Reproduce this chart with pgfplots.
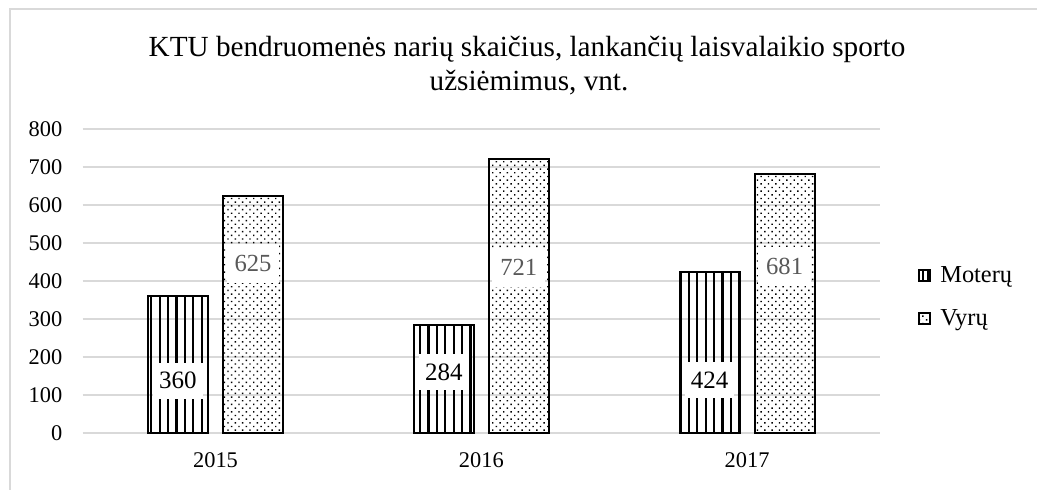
\documentclass[border=0pt]{standalone}
\usepackage{fontspec}
\setmainfont{Liberation Serif}
\usepackage{pgfplots}
\pgfplotsset{compat=1.18}
\usetikzlibrary{patterns.meta}
\definecolor{gridgray}{HTML}{D9D9D9}
\definecolor{lblgray}{HTML}{595959}
\begin{document}
\begin{tikzpicture}
\useasboundingbox (0pt,0pt) rectangle (518.5pt,-244.5pt);
\draw[gridgray, line width=1pt] (4.75pt,-250pt) -- (4.75pt,-4.5pt) -- (525pt,-4.5pt);
\node[anchor=base, font=\fontsize{14.6}{17}\selectfont] at (263.5pt,-28pt) {KTU bendruomenės narių skaičius, lankančių laisvalaikio sporto};
\node[anchor=base, font=\fontsize{14.6}{17}\selectfont] at (264.5pt,-45pt) {užsiėmimus, vnt.};
\begin{axis}[
  at={(41.3pt,-216.5pt)}, anchor=south west,
  scale only axis, width=398.7pt, height=152pt,
  xmin=-0.5, xmax=2.5, ymin=0, ymax=800,
  ytick={0,100,...,800},
  xtick={0,1,2}, xticklabels={2015,2016,2017},
  axis line style={draw=none},
  major tick length=0pt,
  ymajorgrids, grid style={gridgray, line width=1pt},
  /pgf/number format/assume math mode=true,
  tick label style={font=\fontsize{11.2}{13}\selectfont},
  yticklabel style={xshift=-6.6pt},
  xticklabel style={yshift=-6.3pt},
  legend style={at={(1,0.5)}, anchor=west, xshift=17pt, yshift=-8pt, draw=none, fill=none,
    font=\fontsize{12.2}{14}\selectfont, row sep=8pt, inner sep=2pt},
  legend cell align=left,
]
\addplot[ybar, bar width=30pt, bar shift=-18.75pt, draw=black, line width=1pt,
  pattern={Lines[angle=90,distance=4.2pt,line width=1.1pt]},
  legend image code/.code={\path[draw=none,fill=none] (0pt,0pt) -- (8.5pt,0pt);\draw[black, line width=0.9pt, pattern={Lines[angle=90,distance=2.6pt,line width=0.9pt,xshift=1.3pt]}] (0pt,-2.6pt) rectangle (5.2pt,2.6pt);}]
  coordinates {(0,360) (1,284) (2,424)};
\addlegendentry{Moterų}
\addplot[ybar, bar width=30pt, bar shift=18.75pt, draw=black, line width=1pt,
  pattern={Dots[distance=2.6pt,angle=45,radius=0.5pt]},
  legend image code/.code={\path[draw=none,fill=none] (0pt,0pt) -- (8.5pt,0pt);\draw[black, line width=0.9pt, pattern={Dots[distance=2.6pt,angle=45,radius=0.55pt]}] (0pt,-2.6pt) rectangle (5.2pt,2.6pt);}]
  coordinates {(0,625) (1,721) (2,681)};
\addlegendentry{Vyrų}
\addplot[draw=none, mark=none, forget plot, nodes near coords, point meta=explicit symbolic,
  nodes near coords align={anchor=center},
  every node near coord/.append style={fill=white, text=black, anchor=center, inner xsep=3pt, inner ysep=0pt, minimum height=18pt, font=\fontsize{12.5}{14}\selectfont}]
  coordinates {(-0.1411,138)[360] (0.8589,160)[284] (1.8589,139)[424]};
\addplot[draw=none, mark=none, forget plot, nodes near coords, point meta=explicit symbolic,
  nodes near coords align={anchor=center},
  every node near coord/.append style={fill=white, text=lblgray, anchor=center, inner xsep=4pt, inner ysep=0pt, minimum height=19.5pt, font=\fontsize{12.3}{14}\selectfont}]
  coordinates {(0.1411,445)[625] (1.1411,435)[721] (2.1411,438)[681]};
\end{axis}
\end{tikzpicture}
\end{document}
